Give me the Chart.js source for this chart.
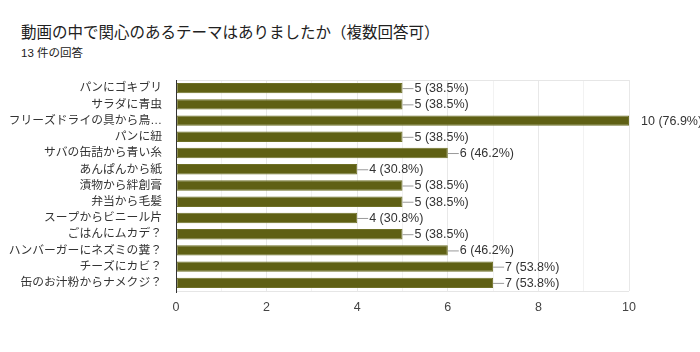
<!DOCTYPE html>
<html>
<head>
<meta charset="utf-8">
<script src="https://cdn.jsdelivr.net/npm/chart.js@4/dist/chart.umd.min.js"></script>
<style>
  html, body { margin:0; padding:0; background:#fff; }
  #wrap { position:relative; width:700px; height:352px; font-family: Arial, "Liberation Sans", "Noto Sans CJK JP", sans-serif; }
  #title { position:absolute; left:21px; top:20px; font-size:15.5px; color:#212121; white-space:nowrap; }
  #sub { position:absolute; left:21px; top:44px; font-size:11.5px; color:#212121; }
  canvas { position:absolute; left:0; top:0; }
</style>
</head>
<body>
<div id="wrap">
  <div id="title">動画の中で関心のあるテーマはありましたか（複数回答可）</div>
  <div id="sub">13 件の回答</div>
  <canvas id="c" width="700" height="352"></canvas>
</div>
<script>
const categories = [
  'パンにゴキブリ', 'サラダに青虫', 'フリーズドライの具から鳥…', 'パンに紐',
  'サバの缶詰から青い糸', 'あんぱんから紙', '漬物から絆創膏', '弁当から毛髪',
  'スープからビニール片', 'ごはんにムカデ？', 'ハンバーガーにネズミの糞？',
  'チーズにカビ？', '缶のお汁粉からナメクジ？'
];
const counts = [5, 5, 10, 5, 6, 4, 5, 5, 4, 5, 6, 7, 7];
const percents = ['38.5', '38.5', '76.9', '38.5', '46.2', '30.8', '38.5', '38.5', '30.8', '38.5', '46.2', '53.8', '53.8'];
const xTicks = [0, 2, 4, 6, 8, 10];

const FONT = 'Arial, "Liberation Sans", "Noto Sans CJK JP", sans-serif';

// value labels with short leader line, like the Google Forms chart
const valueLabels = {
  id: 'valueLabels',
  afterDatasetsDraw(chart) {
    const ctx = chart.ctx;
    const meta = chart.getDatasetMeta(0);
    ctx.save();
    ctx.font = '12.5px ' + FONT;
    ctx.textBaseline = 'middle';
    ctx.textAlign = 'left';
    meta.data.forEach((bar, i) => {
      const txt = counts[i] + ' (' + percents[i] + '%)';
      const x = bar.x, y = bar.y;
      ctx.fillStyle = '#333';
      if (x >= chart.chartArea.right - 1) {
        ctx.fillText(txt, x + 12, y + 0.5);
        return;
      }
      ctx.strokeStyle = '#999';
      ctx.lineWidth = 1;
      ctx.beginPath();
      ctx.moveTo(x, y + 0.5);
      ctx.lineTo(x + 11, y + 0.5);
      ctx.stroke();
      ctx.fillText(txt, x + 12, y + 0.5);
    });
    ctx.restore();
  }
};

// light frame round the plot area, dark baseline on the left
const frame = {
  id: 'frame',
  beforeDatasetsDraw(chart) {
    const { ctx, chartArea: a } = chart;
    ctx.save();
    ctx.strokeStyle = '#e6e6e6';
    ctx.lineWidth = 1;
    ctx.beginPath();
    ctx.moveTo(a.left, Math.round(a.top) + 0.5);
    ctx.lineTo(a.right, Math.round(a.top) + 0.5);
    ctx.moveTo(a.left, Math.round(a.bottom) + 0.5);
    ctx.lineTo(a.right, Math.round(a.bottom) + 0.5);
    ctx.stroke();
    ctx.restore();
  },
  afterDatasetsDraw(chart) {
    const { ctx, chartArea: a } = chart;
    ctx.save();
    ctx.strokeStyle = '#333';
    ctx.lineWidth = 1;
    ctx.beginPath();
    ctx.moveTo(Math.round(a.left) + 0.5, a.top);
    ctx.lineTo(Math.round(a.left) + 0.5, a.bottom + 2);
    ctx.stroke();
    ctx.restore();
  }
};

new Chart(document.getElementById('c'), {
  type: 'bar',
  data: {
    labels: categories,
    datasets: [{
      data: counts,
      backgroundColor: '#5f6014',
      borderColor: '#6e7027',
      borderWidth: 1,
      borderSkipped: false,
      barPercentage: 0.64,
      categoryPercentage: 1
    }]
  },
  options: {
    indexAxis: 'y',
    responsive: false,
    animation: false,
    layout: { padding: { left: 0, right: 71, top: 80, bottom: 28 } },
    plugins: { legend: { display: false }, tooltip: { enabled: false } },
    scales: {
      x: {
        min: 0, max: 10,
        afterFit(s) { s.height = 33; },
        afterBuildTicks(s) { s.ticks = [0,1,2,3,4,5,6,7,8,9,10].map(v => ({ value: v })); },
        border: { display: false },
        grid: {
          color: ctx => (ctx.tick && xTicks.includes(ctx.tick.value)) ? '#e8e8e8' : '#f2f2f2',
          drawTicks: false
        },
        ticks: {
          padding: 9,
          color: '#444',
          font: { family: FONT, size: 12.5 },
          callback: v => xTicks.includes(v) ? String(v) : ''
        }
      },
      y: {
        afterFit(s) { s.width = 176; },
        border: { display: false },
        grid: { display: false },
        ticks: {
          padding: 6,
          color: '#333',
          autoSkip: false,
          font: { family: FONT, size: 11.8 }
        }
      }
    }
  },
  plugins: [frame, valueLabels]
});
</script>
</body>
</html>
